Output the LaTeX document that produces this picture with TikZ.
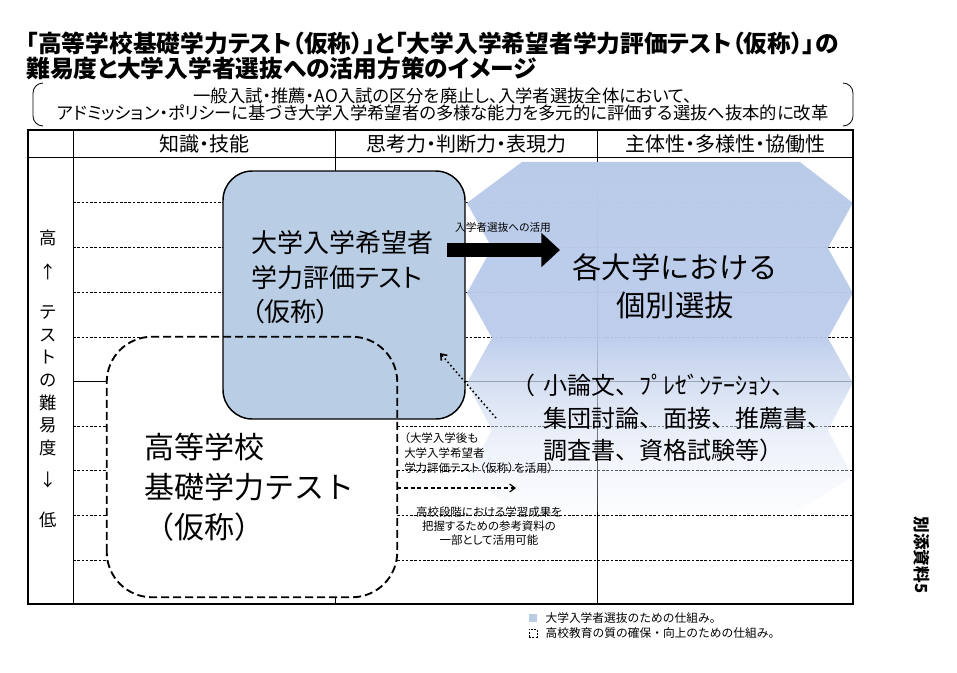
\documentclass[tikz,border=0pt]{standalone}
\usepackage{fontspec}
\setmainfont{Noto Sans CJK JP}
\newfontfamily\jpp{Noto Sans CJK JP}[RawFeature=+palt]
\usetikzlibrary{arrows.meta}
\usetikzlibrary{positioning}
\usetikzlibrary{fadings}
\definecolor{testblue}{RGB}{185,205,228}
\definecolor{waveblue}{RGB}{186,203,234}
\newcommand{\fsz}[2]{\fontsize{#1}{#2}\selectfont}
\tikzfading[name = wavefade, top color = transparent!0, bottom color = transparent!80, middle color = transparent!5]
\tikzset{gridline/.style = {dash pattern = on 2pt off 1.2pt, line width = 0.5pt}}
\tikzset{colline/.style = {line width = 0.7pt}}
\tikzset{txt/.style = {inner sep = 0, align = left}}
\tikzset{testbox/.style = {draw, fill = testblue, line width = 1.1pt, rounded corners = 22pt, minimum width = 181.5pt, minimum height = 186pt, inner sep = 0}}
\tikzset{kisobox/.style = {fill = white, rounded corners = 34pt, minimum width = 217.5pt, minimum height = 195pt, inner sep = 0}}
\tikzset{kisoline/.style = {dash pattern = on 6pt off 3pt, line width = 1.4pt, rounded corners = 34pt}}
\tikzset{bigarrow/.style = {line width = 10.5pt, -{Triangle[length = 14pt, width = 25pt]}}}
\tikzset{dotarrow/.style = {dotted, line width = 1.2pt, -{Straight Barb[length = 4pt, width = 6pt]}}}
\tikzset{dasharrow/.style = {dash pattern = on 3pt off 2pt, line width = 0.9pt, -{Straight Barb[length = 4pt, width = 6pt]}}}

\begin{document}
\begin{tikzpicture}[x = 0.75pt, y = -0.75pt]

    \useasboundingbox (0, 0) rectangle (957, 672);

    \foreach \y in {202, 247, 292, 337, 426, 470, 515, 560}
        \draw [gridline] (73, \y) -- (853, \y);
    \draw [colline] (73, 381) -- (853, 381);
    \foreach \x in {73, 335, 597}
        \draw [colline] (\x, 130) -- (\x, 604);
    \draw [colline] (28, 157) -- (853, 157);

    \shade [top color = waveblue, bottom color = waveblue!25!white, middle color = waveblue, path fading = wavefade]
        (467, 203) -- (522, 162) -- (800, 162) -- (853, 203) -- (828, 248) -- (853, 293) -- (828, 338)
        -- (853, 383) -- (828, 430) -- (853, 477) -- (795, 512) -- (520, 512) -- (467, 477) -- (492, 430)
        -- (467, 383) -- (492, 338) -- (467, 293) -- (492, 248) -- cycle;

    \node [kisobox] (kiso) at (252, 467) {};
    \node [testbox] (hyouka) at (344, 295) {};
    \draw [kisoline] (kiso.south west) rectangle (kiso.north east);

    \draw [line width = 1.5pt] (28, 130) rectangle (853, 604);
    \draw [line width = 0.6pt] (43, 83) to [out = 180, in = 90] (33, 93) -- (33, 116) to [out = -90, in = 180] (43, 126);
    \draw [line width = 0.6pt] (843, 83) to [out = 0, in = 90] (853, 93) -- (853, 116) to [out = -90, in = 0] (843, 126);

    \node [txt, anchor = west, font = \jpp\bfseries\fsz{17.8}{16.5}] (title) at (26, 56) {「高等学校基礎学力テスト（仮称）」と「大学入学希望者学力評価テスト（仮称）」の\\難易度と大学入学者選抜への活用方策のイメージ};
    \node [txt, align = center, font = \jpp\fsz{13}{12.75}] (policy) at (443, 104.5) {一般入試・推薦・AO入試の区分を廃止し、入学者選抜全体において、\\アドミッション・ポリシーに基づき大学入学希望者の多様な能力を多元的に評価する選抜へ抜本的に改革};

    \node [inner sep = 0, font = \jpp\fsz{15}{18}] (knowledge) at (204, 143.5) {知識・技能};
    \node [inner sep = 0, font = \jpp\fsz{15}{18}] (thinking) at (466, 143.5) {思考力・判断力・表現力};
    \node [inner sep = 0, font = \jpp\fsz{15}{18}] (attitude) at (725, 143.5) {主体性・多様性・協働性};

    \node [txt, align = center, font = \fsz{13}{17}] (difficulty) at (48, 379) {高\\[8.5pt]↑\\[13pt]テ\\ス\\ト\\の\\難\\易\\度\\[7pt]↓\\[13pt]低};

    \node [txt, anchor = west, font = \jpp\fsz{19.5}{26}] (hyoukatext) at (251, 277.5) {大学入学希望者\\学力評価テスト\\（仮称）};
    \node [txt, anchor = west, font = \fsz{22.5}{30}] (kisotext) at (144, 487) {高等学校\\基礎学力テスト\\（仮称）};

    \node [txt, align = center, font = \fsz{22}{28.5}] (kobetsu) at (675, 286) {各大学における\\個別選抜};
    \node [txt, anchor = west, font = \fsz{18}{24.4}] (methods) at (519, 418) {\rlap{\hspace{-6pt}（}　小論文、ﾌﾟﾚｾﾞﾝﾃｰｼｮﾝ、\\　集団討論、面接、推薦書、\\　調査書、資格試験等）};

    \node [inner sep = 0, font = \jpp\fsz{8}{10}] (uselabel) at (503, 227) {入学者選抜への活用};
    \node [txt, anchor = west, font = \jpp\fsz{8.6}{11.25}] (afteruse) at (404, 453) {（大学入学後も\\大学入学希望者\\学力評価テスト（仮称）を活用）};
    \node [txt, align = center, font = \jpp\fsz{8.6}{10.5}] (reference) at (489, 526) {高校段階における学習成果を\\把握するための参考資料の\\一部として活用可能};

    \coordinate (selstart) at (447, 250);
    \coordinate (selend) at (560, 250);
    \coordinate (dotstart) at (496, 418);
    \coordinate (dotend) at (440, 353);
    \coordinate (dashend) at (516, 488);
    \draw [bigarrow] (selstart) -- (selend);
    \draw [dotarrow] (dotstart) -- (dotend);
    \draw [dasharrow] (kiso.east |- dashend) -- (dashend);

    \node [fill = testblue, minimum size = 6pt, inner sep = 0] (legblue) at (533, 618) {};
    \node [draw, dash pattern = on 1.5pt off 1pt, line width = 0.6pt, minimum size = 6pt, inner sep = 0] (legdash) at (533, 633) {};
    \node [txt, right = 6pt of legblue, font = \fsz{8.8}{11}] (legbluetext) {大学入学者選抜のための仕組み。};
    \node [txt, right = 6pt of legdash, font = \fsz{8.8}{11}] (legdashtext) {高校教育の質の確保・向上のための仕組み。};

    \node [rotate = -90, inner sep = 0, font = \bfseries\fsz{12.5}{14}] (annex) at (922, 555) {別添資料5};
  \end{tikzpicture}
\end{document}
